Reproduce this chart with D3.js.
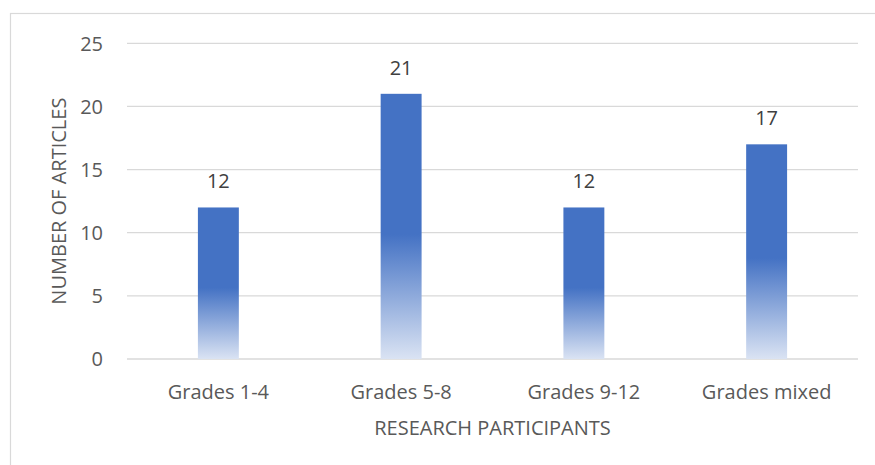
<!DOCTYPE html>
<html>
<head>
<meta charset="utf-8">
<script src="https://cdn.jsdelivr.net/npm/d3@7"></script>
<style>
  html, body { margin: 0; padding: 0; background: #fff; }
  svg { display: block; }
  text { font-family: "Open Sans", "Noto Sans", sans-serif; fill: #595959; }
</style>
</head>
<body>
<svg id="chart" width="875" height="465"></svg>
<script>
const categories = ["Grades 1-4", "Grades 5-8", "Grades 9-12", "Grades mixed"];
const values = [12, 21, 12, 17];
const yTicks = [0, 5, 10, 15, 20, 25];
const yTitle = "NUMBER OF ARTICLES";
const xTitle = "RESEARCH PARTICIPANTS";

const W = 875, H = 465;
const FS = "20px";
const svg = d3.select("#chart");

// chart area border
svg.append("rect")
  .attr("x", 10.5).attr("y", 13.5)
  .attr("width", W + 20).attr("height", H + 20)
  .attr("fill", "none").attr("stroke", "#d9d9d9").attr("stroke-width", 1.2);

const plot = { left: 127, right: 858, top: 43.3, bottom: 359 };

const x = d3.scaleBand().domain(categories)
  .range([plot.left, plot.right]).paddingInner(0.776).paddingOuter(0.388);
const y = d3.scaleLinear().domain([0, 25]).range([plot.bottom, plot.top]);

// gradient
const defs = svg.append("defs");
const grad = defs.append("linearGradient")
  .attr("id", "barGrad").attr("x1", 0).attr("y1", 0).attr("x2", 0).attr("y2", 1);
grad.append("stop").attr("offset", "0%").attr("stop-color", "#4472C4");
grad.append("stop").attr("offset", "53%").attr("stop-color", "#4472C4");
grad.append("stop").attr("offset", "100%").attr("stop-color", "#DAE3F3");

// gridlines
const grid = svg.append("g").attr("class", "grid");
grid.selectAll("line").data(yTicks).join("line")
  .attr("x1", plot.left).attr("x2", plot.right)
  .attr("y1", d => y(d)).attr("y2", d => y(d))
  .attr("stroke", "#d9d9d9")
  .attr("stroke-width", d => d === 0 ? 1.5 : 1.2);

// y axis labels
const yAxis = d3.axisLeft(y).tickValues(yTicks).tickSize(0).tickPadding(0);
const yg = svg.append("g").attr("transform", `translate(${plot.left - 24},0)`).call(yAxis);
yg.select(".domain").remove();
yg.selectAll("text").style("font-size", FS).attr("fill", "#595959").attr("dy", "0.34em");

// bars
svg.append("g").selectAll("rect").data(values).join("rect")
  .attr("x", (d, i) => x(categories[i]))
  .attr("y", d => y(d))
  .attr("width", x.bandwidth())
  .attr("height", d => y(0) - y(d))
  .attr("fill", "url(#barGrad)");

// data labels
svg.append("g").selectAll("text").data(values).join("text")
  .attr("x", (d, i) => x(categories[i]) + x.bandwidth() / 2)
  .attr("y", d => y(d) - 19)
  .attr("text-anchor", "middle")
  .style("font-size", FS)
  .style("fill", "#404040")
  .text(d => d);

// x axis labels
const xAxis = d3.axisBottom(x).tickSize(0).tickPadding(0);
const xg = svg.append("g").attr("transform", `translate(0,${plot.bottom})`).call(xAxis);
xg.select(".domain").remove();
xg.selectAll("text").style("font-size", FS).attr("fill", "#595959")
  .attr("dy", null).attr("y", 39.5);

// axis titles
svg.append("text")
  .attr("x", (plot.left + plot.right) / 2)
  .attr("y", 435)
  .attr("text-anchor", "middle")
  .style("font-size", FS)
  .text(xTitle);

svg.append("text")
  .attr("transform", `translate(66,${(plot.top + plot.bottom) / 2}) rotate(-90)`)
  .attr("text-anchor", "middle")
  .style("font-size", FS)
  .text(yTitle);
</script>
</body>
</html>
